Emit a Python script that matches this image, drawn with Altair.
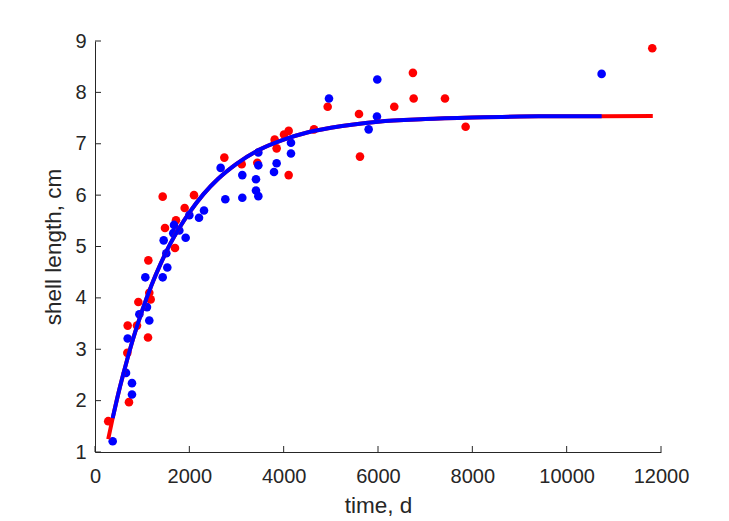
import altair as alt
import pandas as pd

red_t = [280, 720, 685, 693, 890, 919, 1151, 1180, 1124, 1131, 1435, 1484, 1696, 1717, 1901, 2099,
         2742, 3110, 3441, 3851, 3809, 4007, 4106, 4106, 4643, 4933, 5597, 5618, 6345, 6740, 6756,
         7420, 7858, 11815]
red_L = [1.60, 1.97, 2.93, 3.46, 3.46, 3.92, 4.10, 3.97, 3.23, 4.73, 5.97, 5.36, 4.97, 5.51, 5.75, 6.00,
         6.73, 6.60, 6.63, 6.91, 7.08, 7.18, 7.25, 6.39, 7.28, 7.72, 7.58, 6.75, 7.72, 8.38, 7.88,
         7.88, 7.33, 8.86]

blue_t = [375, 784, 784, 657, 693, 1151, 940, 1102, 1067, 1435, 1533, 1512, 1456, 1922, 1660, 1788,
          1675, 2000, 2205, 2311, 2664, 2763, 3123, 3123, 3463, 3463, 3413, 3413, 3463, 3851, 3795,
          4155, 4155, 4961, 5802, 5978, 5985, 10741]
blue_L = [1.21, 2.12, 2.34, 2.54, 3.21, 3.56, 3.68, 3.82, 4.40, 4.40, 4.59, 4.87, 5.12, 5.17, 5.26, 5.31,
          5.42, 5.61, 5.56, 5.70, 6.53, 5.92, 6.39, 5.95, 6.83, 6.58, 6.31, 6.09, 5.98, 6.62, 6.45,
          7.02, 6.81, 7.88, 7.28, 7.53, 8.25, 8.36]

# Fitted growth curves
red_fit_t = [280, 375, 500, 650, 800, 1000, 1200, 1400, 1600, 1800, 2000, 2300, 2600, 3000, 3500,
             4000, 4500, 5000, 6000, 7000, 8000, 9000, 10000, 10742, 11826]
red_fit_L = [1.25, 1.66, 2.16, 2.69, 3.18, 3.75, 4.25, 4.68, 5.06, 5.38, 5.66, 6.02, 6.31, 6.61, 6.89,
             7.08, 7.22, 7.31, 7.43, 7.48, 7.51, 7.53, 7.535, 7.536, 7.54]
blue_fit_t = [375, 500, 650, 800, 1000, 1200, 1400, 1600, 1800, 2000, 2300, 2600, 3000, 3500,
              4000, 4500, 5000, 6000, 7000, 8000, 9000, 10000, 10742]
blue_fit_L = [1.66, 2.16, 2.69, 3.18, 3.75, 4.25, 4.68, 5.06, 5.38, 5.66, 6.02, 6.31, 6.61, 6.89,
              7.08, 7.22, 7.31, 7.43, 7.48, 7.51, 7.53, 7.535, 7.536]

x_ticks = [0, 2000, 4000, 6000, 8000, 10000, 12000]
y_ticks = [1, 2, 3, 4, 5, 6, 7, 8, 9]

W, H = 566, 411
FONT = "Liberation Sans"
TXT = "#262626"

red_df = pd.DataFrame({"t": red_t, "L": red_L})
blue_df = pd.DataFrame({"t": blue_t, "L": blue_L})
red_fit = pd.DataFrame({"t": red_fit_t, "L": red_fit_L})
blue_fit = pd.DataFrame({"t": blue_fit_t, "L": blue_fit_L})

xs = alt.Scale(domain=[0, 12000], nice=False, zero=False)
ys = alt.Scale(domain=[1, 9], nice=False, zero=False)

x_axis = alt.Axis(values=x_ticks, title="time, d", tickSize=0, labelPadding=14,
                  titlePadding=8, grid=False, format="d", labelFlush=False)
y_axis = alt.Axis(values=y_ticks, title="shell length, cm", tickSize=0, labelPadding=9,
                  titlePadding=9, grid=False, labelFlush=False)

red_pts = alt.Chart(red_df).mark_circle(size=74, color="#FF0000", opacity=1).encode(
    x=alt.X("t:Q", scale=xs, axis=x_axis),
    y=alt.Y("L:Q", scale=ys, axis=y_axis),
)
blue_pts = alt.Chart(blue_df).mark_circle(size=74, color="#0000FF", opacity=1).encode(
    x=alt.X("t:Q", scale=xs), y=alt.Y("L:Q", scale=ys)
)
red_line = alt.Chart(red_fit).mark_line(color="#FF0000", strokeWidth=4, interpolate="monotone").encode(
    x=alt.X("t:Q", scale=xs), y=alt.Y("L:Q", scale=ys)
)
blue_line = alt.Chart(blue_fit).mark_line(color="#0000FF", strokeWidth=4, interpolate="monotone").encode(
    x=alt.X("t:Q", scale=xs), y=alt.Y("L:Q", scale=ys)
)

xt = alt.Chart(pd.DataFrame({"t": x_ticks})).mark_rule(color=TXT, strokeWidth=1).encode(
    x=alt.X("t:Q", scale=xs), y=alt.value(H), y2=alt.value(H - 6)
)
yt = alt.Chart(pd.DataFrame({"L": y_ticks})).mark_rule(color=TXT, strokeWidth=1).encode(
    y=alt.Y("L:Q", scale=ys), x=alt.value(0), x2=alt.value(6)
)

chart = alt.layer(red_pts, blue_pts, red_line, blue_line, xt, yt).properties(
    width=W, height=H,
    autosize=alt.AutoSizeParams(type="none"),
    padding={"left": 95, "top": 41, "right": 68, "bottom": 69},
    background="white",
).configure_view(stroke=None).configure_axis(
    domainColor=TXT, domainWidth=1, labelColor=TXT, titleColor=TXT,
    labelFont=FONT, titleFont=FONT, labelFontSize=20, titleFontSize=22.5,
    titleFontWeight="normal",
)

chart.save("out.html", embed_options={"renderer": "svg", "actions": False})
